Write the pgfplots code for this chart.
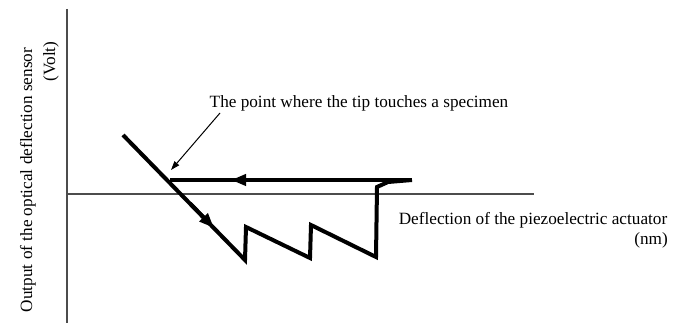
\documentclass[border=0pt]{standalone}
\usepackage{fontspec}
\setmainfont{Liberation Serif}
\usepackage{pgfplots}
\pgfplotsset{compat=1.18}
\usetikzlibrary{arrows.meta}
\newcommand{\lbl}{\fontsize{17.2}{20}\selectfont}
\begin{document}
\begin{tikzpicture}
\begin{axis}[
  scale only axis, width=677pt, height=323pt,
  xmin=0, xmax=677, ymin=0, ymax=323,
  hide axis, clip=false,
]
\path (rel axis cs:0,0) rectangle (rel axis cs:1,1);
% axes
\addplot[black!70, line width=1.3pt] coordinates {(67,314) (67,0)};
\addplot[black!70, line width=1.3pt] coordinates {(67,129) (534,129)};
% main curve
\addplot[black, line width=4pt, line join=miter] coordinates {
  (123,188) (245,63) (246,96) (310,65) (311,98) (376,66) (377,136) (388,141) (412,143)};
\addplot[black, line width=4pt, -{Triangle[length=15pt,width=11pt]}] coordinates {(412,143) (231,143)};
\addplot[black, line width=4pt] coordinates {(240,143) (170,143)};
\addplot[black, line width=4pt, -{Triangle[length=15pt,width=11pt]}] coordinates {(190,119.6) (214,95)};
% annotation arrow
\addplot[black, line width=1pt, -{Triangle[length=9pt,width=6pt]}] coordinates {(220,210) (171,153)};
% texts
\node[inner sep=0pt, font=\lbl] at (axis cs:359,220) {The point where the tip touches a specimen};
\node[inner sep=0pt, font=\lbl] at (axis cs:533,103) {Deflection of the piezoelectric actuator};
\node[inner sep=0pt, font=\lbl, anchor=east] at (axis cs:668,83) {(nm)};
\node[inner sep=0pt, font=\lbl, rotate=90] at (axis cs:28,143) {Output of the optical deflection sensor};
\node[inner sep=0pt, font=\lbl, rotate=90] at (axis cs:51,261.5) {(Volt)};
\end{axis}
\end{tikzpicture}
\end{document}
